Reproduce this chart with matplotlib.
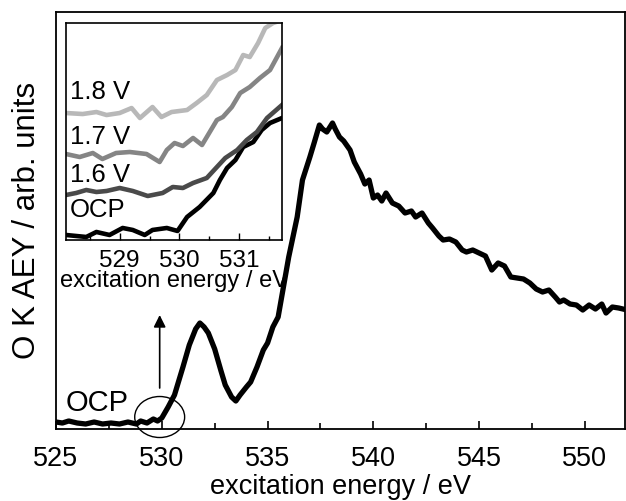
import numpy as np
import matplotlib.pyplot as plt
from matplotlib.patches import Ellipse
from matplotlib.ticker import MultipleLocator

plt.rcParams['font.family'] = ['Liberation Sans', 'DejaVu Sans']

# main OCP spectrum (eV, arb. units)
energy = [525.0, 525.3, 525.6, 526.0, 526.4, 526.8, 527.2, 527.6, 528.0, 528.4,
          528.8, 529.0, 529.3, 529.6, 529.8, 530.0, 530.3, 530.6, 531.0, 531.3,
          531.6, 531.8, 532.0, 532.2, 532.5, 532.8, 533.0, 533.3, 533.5, 533.7,
          534.0, 534.2, 534.5, 534.8, 535.0, 535.25, 535.5, 535.7, 536.0, 536.4,
          536.65, 537.0, 537.2, 537.45, 537.6, 537.8, 538.07, 538.2, 538.4, 538.6,
          538.9, 539.1, 539.4, 539.6, 539.8, 540.0, 540.2, 540.4, 540.6, 540.9,
          541.2, 541.5, 541.8, 542.0, 542.3, 542.6, 542.8, 543.1, 543.3, 543.6,
          543.9, 544.2, 544.4, 544.7, 545.0, 545.3, 545.6, 545.9, 546.2, 546.5,
          546.8, 547.1, 547.4, 547.7, 548.0, 548.3, 548.6, 548.8, 549.0, 549.3,
          549.6, 549.9, 550.2, 550.5, 550.8, 551.0, 551.3, 551.6, 552.0]
aey = [0.07, 0.06, 0.08, 0.06, 0.05, 0.07, 0.05, 0.06, 0.05, 0.07,
       0.05, 0.08, 0.06, 0.10, 0.08, 0.11, 0.22, 0.34, 0.62, 0.84,
       1.00, 1.06, 1.02, 0.96, 0.80, 0.58, 0.44, 0.32, 0.28, 0.34,
       0.42, 0.47, 0.62, 0.79, 0.86, 1.02, 1.12, 1.36, 1.72, 2.12,
       2.49, 2.72, 2.86, 3.04, 3.00, 2.97, 3.06, 3.00, 2.92, 2.88,
       2.79, 2.67, 2.55, 2.45, 2.49, 2.31, 2.34, 2.28, 2.36, 2.26,
       2.23, 2.16, 2.18, 2.12, 2.16, 2.06, 2.01, 1.93, 1.89, 1.90,
       1.87, 1.79, 1.77, 1.79, 1.76, 1.73, 1.59, 1.66, 1.63, 1.52,
       1.51, 1.50, 1.46, 1.40, 1.37, 1.39, 1.32, 1.27, 1.29, 1.25,
       1.24, 1.19, 1.24, 1.20, 1.25, 1.16, 1.22, 1.21, 1.19]

# inset: pre-edge region for different potentials
ins_ocp_x = [528.1, 528.44, 528.61, 528.83, 529.05, 529.22, 529.42, 529.55, 529.79, 529.97,
             530.13, 530.34, 530.57, 530.68, 530.8, 530.94, 531.07, 531.24, 531.38, 531.52, 531.72]
ins_ocp_y = [0.05, 0.03, 0.08, 0.05, 0.12, 0.10, 0.05, 0.10, 0.12, 0.09,
             0.23, 0.33, 0.47, 0.60, 0.72, 0.80, 0.93, 0.98, 1.10, 1.17, 1.22]

ins_16_x = [528.1, 528.27, 528.44, 528.61, 528.78, 529.0, 529.22, 529.47, 529.72, 529.89,
            530.06, 530.23, 530.46, 530.63, 530.77, 530.97, 531.13, 531.3, 531.47, 531.72]
ins_16_y = [0.45, 0.47, 0.50, 0.48, 0.49, 0.52, 0.49, 0.44, 0.47, 0.53,
            0.52, 0.57, 0.62, 0.73, 0.82, 0.90, 1.00, 1.08, 1.22, 1.35]

ins_17_x = [528.1, 528.33, 528.55, 528.71, 528.94, 529.17, 529.45, 529.67, 529.79, 529.92,
            530.06, 530.23, 530.38, 530.51, 530.63, 530.73, 530.88, 531.02, 531.18, 531.35,
            531.52, 531.72]
ins_17_y = [0.86, 0.83, 0.87, 0.81, 0.87, 0.88, 0.86, 0.78, 0.90, 0.97,
            0.94, 1.02, 0.95, 1.08, 1.20, 1.23, 1.33, 1.47, 1.53, 1.62,
            1.70, 1.92]

ins_18_x = [528.1, 528.38, 528.61, 528.78, 529.0, 529.2, 529.34, 529.55, 529.7, 529.87,
            530.13, 530.29, 530.46, 530.63, 530.8, 530.94, 531.07, 531.18, 531.32, 531.44,
            531.57, 531.72]
ins_18_y = [1.27, 1.26, 1.28, 1.25, 1.27, 1.32, 1.22, 1.33, 1.23, 1.28,
            1.30, 1.37, 1.45, 1.60, 1.65, 1.70, 1.85, 1.83, 1.97, 2.12,
            2.17, 2.20]

fig = plt.figure(figsize=(6.26, 5.01), dpi=100)
ax = fig.add_axes([0.0895, 0.1437, 0.909, 0.8323])
ax.plot(energy, aey, color='black', linewidth=3.8, solid_joinstyle='round')
ax.set_xlim(525, 551.9)
ax.set_ylim(0, 4.17)
ax.set_yticks([])
ax.xaxis.set_major_locator(MultipleLocator(5))
ax.xaxis.set_minor_locator(MultipleLocator(2.5))
ax.tick_params(axis='x', which='major', direction='in', length=6, width=1.2,
               labelsize=19.5, pad=12)
ax.tick_params(axis='x', which='minor', direction='in', length=4, width=1.2)
for s in ax.spines.values():
    s.set_linewidth(1.3)
ax.set_xlabel('excitation energy / eV', fontsize=19.5, labelpad=2)
ax.set_ylabel('O K AEY / arb. units', fontsize=22.5, labelpad=10)

# OCP label, circle around pre-edge and arrow pointing to inset
ax.text(525.45, 0.26, 'OCP', fontsize=21, ha='left', va='center')
ax.add_patch(Ellipse((529.9, 0.12), 2.36, 0.41, fill=False, edgecolor='black',
                     linewidth=1.0, clip_on=False))
ax.annotate('', xy=(529.9, 1.14), xytext=(529.9, 0.41),
            arrowprops=dict(arrowstyle='-|>', color='black', lw=1.2,
                            mutation_scale=18, shrinkA=0, shrinkB=0))

ins = fig.add_axes([0.1054, 0.521, 0.345, 0.433])
ins.plot(ins_ocp_x, ins_ocp_y, color='black', linewidth=3.3)
ins.plot(ins_16_x, ins_16_y, color='#4a4a4a', linewidth=3.3)
ins.plot(ins_17_x, ins_17_y, color='#858585', linewidth=3.3)
ins.plot(ins_18_x, ins_18_y, color='#b8b8b8', linewidth=3.3)
ins.set_xlim(528.1, 531.72)
ins.set_ylim(0, 2.17)
ins.set_yticks([])
ins.xaxis.set_major_locator(MultipleLocator(1))
ins.xaxis.set_minor_locator(MultipleLocator(0.5))
ins.tick_params(axis='x', which='major', direction='in', length=5, width=1.0,
                labelsize=17.5, pad=7)
ins.tick_params(axis='x', which='minor', direction='in', length=3, width=1.0)
for s in ins.spines.values():
    s.set_linewidth(1.2)
ins.set_xlabel('excitation energy / eV', fontsize=17, labelpad=-1)

for label, yv in [('1.8 V', 1.48), ('1.7 V', 1.03), ('1.6 V', 0.65), ('OCP', 0.30)]:
    ins.text(528.17, yv, label, fontsize=18.5, ha='left', va='center')

fig.savefig('out.png', dpi=100)
